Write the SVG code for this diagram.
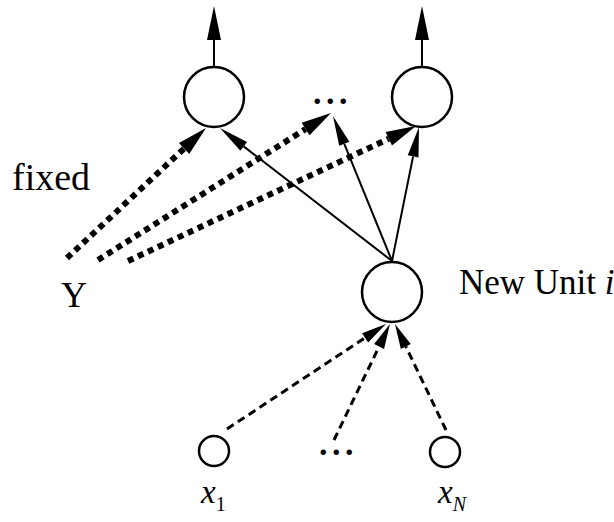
<svg xmlns="http://www.w3.org/2000/svg" width="614" height="522" viewBox="0 0 614 522">
<style>
.node{fill:none;stroke:#000;stroke-width:2.5}
.solid{stroke:#000;stroke-width:2;fill:none}
.dotted{stroke:#000;stroke-width:6;stroke-dasharray:6 5;fill:none}
.dashed{stroke:#000;stroke-width:3;stroke-dasharray:8 5;fill:none}
.lbl{font-family:"Liberation Serif","Times New Roman",serif;fill:#000}
</style>
<defs>
<marker id="ahBig" markerUnits="userSpaceOnUse" markerWidth="40" markerHeight="20" refX="0" refY="0" viewBox="0 -10 40 20" orient="auto" overflow="visible">
<path d="M0,-7 L34,0 L0,7 z" fill="#000"/>
</marker>
<marker id="ahMid" markerUnits="userSpaceOnUse" markerWidth="40" markerHeight="20" refX="0" refY="0" viewBox="0 -10 40 20" orient="auto" overflow="visible">
<path d="M0,-7.5 L30,0 L0,7.5 z" fill="#000"/>
</marker>
<marker id="ahSm" markerUnits="userSpaceOnUse" markerWidth="40" markerHeight="20" refX="0" refY="0" viewBox="0 -10 40 20" orient="auto" overflow="visible">
<path d="M0,-5.5 L30,0 L0,5.5 z" fill="#000"/>
</marker>
<marker id="ahDash" markerUnits="userSpaceOnUse" markerWidth="40" markerHeight="20" refX="0" refY="0" viewBox="0 -10 40 20" orient="auto" overflow="visible">
<path d="M0,-5.5 L25,0 L0,5.5 z" fill="#000"/>
</marker>
</defs>

<g id="connectors">
<line class="solid" x1="214" y1="67" x2="214" y2="40" marker-end="url(#ahBig)"/>
<line class="solid" x1="422" y1="67" x2="422" y2="40" marker-end="url(#ahBig)"/>
<line class="solid" x1="392" y1="261" x2="243.7" y2="146.4" marker-end="url(#ahSm)"/>
<line class="solid" x1="392" y1="261" x2="344.3" y2="143.8" marker-end="url(#ahSm)"/>
<line class="solid" x1="392" y1="261" x2="413.1" y2="156.4" marker-end="url(#ahSm)"/>
<line class="dotted" x1="67" y1="258" x2="184.1" y2="148.5" marker-end="url(#ahMid)"/>
<line class="dotted" x1="98" y1="260" x2="305.6" y2="129" marker-end="url(#ahMid)"/>
<line class="dotted" x1="128" y1="261" x2="388.8" y2="138.7" marker-end="url(#ahMid)"/>
<line class="dashed" x1="227" y1="429" x2="365.1" y2="337.8" marker-end="url(#ahDash)"/>
<line class="dashed" x1="334" y1="440" x2="379.1" y2="346.5" marker-end="url(#ahDash)"/>
<line class="dashed" x1="446" y1="430" x2="405.8" y2="346.5" marker-end="url(#ahDash)"/>
</g>

<g id="output1"><circle class="node" cx="214" cy="97" r="30"/></g>
<g id="outputN"><circle class="node" cx="422" cy="97" r="30"/></g>
<g id="outputDots"><text class="lbl" x="313" y="104" font-size="34" font-weight="bold" letter-spacing="4.5">...</text></g>
<g id="fixedLabel"><text class="lbl" x="12" y="190" font-size="38">fixed</text></g>
<g id="Y"><text class="lbl" x="61" y="307" font-size="36">Y</text></g>
<g id="newUnit">
<circle class="node" cx="392" cy="292" r="30"/>
<text class="lbl" x="459" y="294" font-size="35">New Unit <tspan font-style="italic">i</tspan></text>
</g>
<g id="x1">
<circle class="node" cx="214" cy="451" r="15"/>
<text class="lbl" x="201" y="503" font-size="33" font-style="italic">x<tspan font-size="20" font-style="normal" dy="8">1</tspan></text>
</g>
<g id="inputDots"><text class="lbl" x="319" y="455" font-size="34" font-weight="bold" letter-spacing="4.5">...</text></g>
<g id="xN">
<circle class="node" cx="445" cy="452" r="15"/>
<text class="lbl" x="438" y="503" font-size="33" font-style="italic">x<tspan font-size="20" dy="8">N</tspan></text>
</g>
</svg>
